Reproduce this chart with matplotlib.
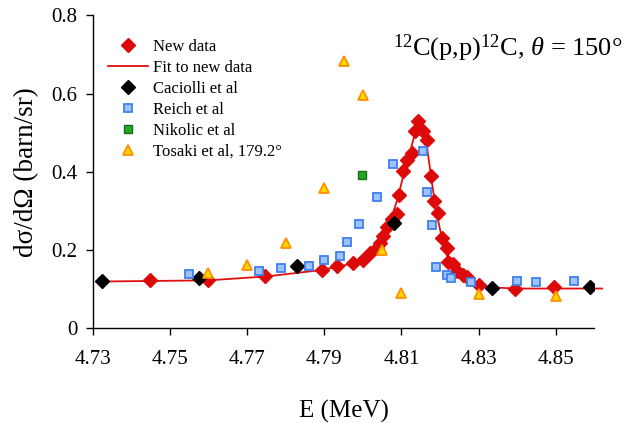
import matplotlib
matplotlib.use("Agg")
import matplotlib.pyplot as plt
from matplotlib.lines import Line2D

plt.rcParams['font.family'] = ['Liberation Serif', 'DejaVu Serif']
plt.rcParams['mathtext.fontset'] = 'custom'
plt.rcParams['mathtext.rm'] = 'Liberation Serif'
plt.rcParams['mathtext.it'] = 'Liberation Serif:italic'

# New data (red diamonds)
new_E = [4.7449, 4.7599, 4.7747, 4.7894, 4.7933, 4.7975, 4.8001, 4.8019, 4.8036, 4.8045,
         4.8053, 4.8064, 4.8075, 4.8088, 4.8094, 4.8105, 4.8115, 4.8127, 4.8135, 4.8144,
         4.8157, 4.8167, 4.8177, 4.8185, 4.8196, 4.8206, 4.8218, 4.8222, 4.8235, 4.8245,
         4.8261, 4.8269, 4.8300, 4.8395, 4.8496]
new_y = [0.123, 0.123, 0.133, 0.148, 0.159, 0.167, 0.174, 0.191, 0.204, 0.217,
         0.236, 0.259, 0.278, 0.291, 0.341, 0.403, 0.430, 0.449, 0.505, 0.531,
         0.505, 0.480, 0.389, 0.326, 0.294, 0.230, 0.206, 0.170, 0.163, 0.146,
         0.136, 0.131, 0.110, 0.101, 0.106]

# Fit to new data
fit_E = [4.7323, 4.760, 4.775, 4.789, 4.795, 4.800, 4.803, 4.805, 4.807, 4.809, 4.811,
         4.8125, 4.8137, 4.8145, 4.8155, 4.8167, 4.8178, 4.819, 4.8205, 4.822, 4.824,
         4.826, 4.829, 4.833, 4.840, 4.850, 4.862]
fit_y = [0.119, 0.122, 0.132, 0.148, 0.160, 0.172, 0.195, 0.225, 0.270, 0.330, 0.410,
         0.460, 0.505, 0.533, 0.510, 0.460, 0.380, 0.300, 0.230, 0.180, 0.155,
         0.135, 0.115, 0.104, 0.101, 0.101, 0.101]

# Caciolli et al
cac_E = [4.7324, 4.7576, 4.7830, 4.8082, 4.8336, 4.8590]
cac_y = [0.120, 0.128, 0.159, 0.268, 0.102, 0.104]

# Reich et al
rei_E = [4.7550, 4.7731, 4.7788, 4.7861, 4.7899, 4.7941, 4.7959, 4.7990, 4.8038, 4.8077,
         4.8157, 4.8167, 4.8179, 4.8190, 4.8218, 4.8229, 4.8280, 4.8399, 4.8450, 4.8548]
rei_y = [0.138, 0.146, 0.154, 0.159, 0.174, 0.184, 0.220, 0.266, 0.335, 0.420,
         0.453, 0.349, 0.263, 0.155, 0.136, 0.129, 0.118, 0.121, 0.117, 0.121]

# Nikolic et al
nik_E = [4.7999]
nik_y = [0.392]

# Tosaki et al, 179.2 deg
tos_E = [4.760, 4.770, 4.780, 4.790, 4.795, 4.800, 4.805, 4.810, 4.830, 4.850]
tos_y = [0.141, 0.161, 0.218, 0.358, 0.684, 0.597, 0.200, 0.089, 0.086, 0.082]

xticks = [4.73, 4.75, 4.77, 4.79, 4.81, 4.83, 4.85]
yticks = [0, 0.2, 0.4, 0.6, 0.8]
ytick_labels = ['0', '0.2', '0.4', '0.6', '0.8']

fig = plt.figure(figsize=(6.23, 4.23), dpi=100)
ax = fig.add_axes([92.7/623, 1-328/423, (594.3-92.7)/623, (328-15.5)/423])

red = '#dd0a0a'
sq = dict(ls='none', marker='s', ms=6, mfc='#9cc3fa', mec='#3f7ff0', mew=1.3)
nk = dict(ls='none', marker='s', ms=6, mfc='#22aa22', mec='#1a6b1a', mew=1.0)
tr = dict(ls='none', marker='^', ms=7.5, mfc='#ffd700', mec='#ff9000', mew=1.3)
nd = dict(ls='none', marker='D', ms=7.5, mfc=red, mec=red)
bk = dict(ls='none', marker='D', ms=7, mfc='black', mec='black')

ax.plot(fit_E, fit_y, color='#e01010', lw=1.3, zorder=2, clip_on=False)
ax.plot(new_E, new_y, zorder=3, **nd)
ax.plot(cac_E, cac_y, zorder=4, **bk)
ax.plot(rei_E, rei_y, zorder=5, **sq)
ax.plot(nik_E, nik_y, zorder=6, **nk)
ax.plot(tos_E, tos_y, zorder=7, **tr)

ax.set_xlim(4.73, 4.86)
ax.set_ylim(0, 0.8)
ax.set_xticks(xticks)
ax.set_xticklabels([f"{t:.2f}" for t in xticks])
ax.set_yticks(yticks)
ax.set_yticklabels(ytick_labels)
for s in ['top', 'right']:
    ax.spines[s].set_visible(False)
for s in ['left', 'bottom']:
    ax.spines[s].set_linewidth(1.0)
ax.tick_params(axis='both', direction='out', length=5, width=1.0, labelsize=15)
ax.tick_params(axis='x', pad=11)
ax.tick_params(axis='y', pad=6)

ax.set_xlabel('E (MeV)', fontsize=18, labelpad=22)
ax.set_ylabel('dσ/dΩ (barn/sr)', fontsize=19.5, labelpad=9)

handles = [
    Line2D([], [], **nd),
    Line2D([], [], color='#e01010', lw=1.3),
    Line2D([], [], **bk),
    Line2D([], [], **sq),
    Line2D([], [], **nk),
    Line2D([], [], **tr),
]
labels = ['New data', 'Fit to new data', 'Caciolli et al', 'Reich et al',
          'Nikolic et al', 'Tosaki et al, 179.2°']
ax.legend(handles, labels, loc='upper left', bbox_to_anchor=(0.03, 0.925),
          frameon=False, fontsize=12, handlelength=2.4, handletextpad=0.3,
          labelspacing=0.3, borderpad=0, borderaxespad=0)

fig.text(393/623, 1-55/423, r'$^{12}$C(p,p)$^{12}$C, $\theta$ = 150°', fontsize=19,
         ha='left', va='baseline')

fig.savefig('out.png', dpi=100)
